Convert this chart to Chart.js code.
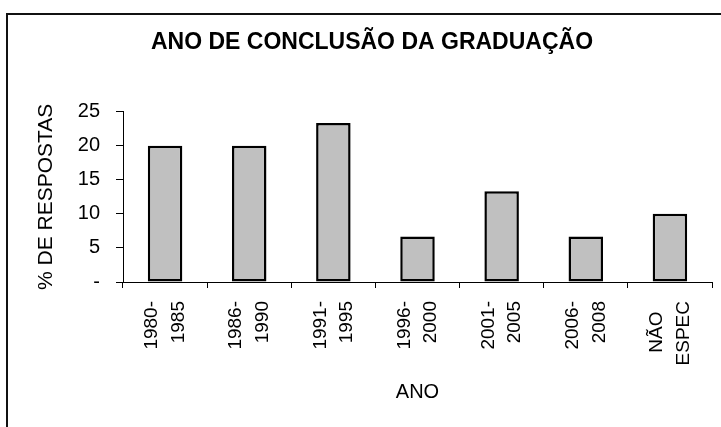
<!DOCTYPE html>
<html>
<head>
<meta charset="utf-8">
<script src="https://cdn.jsdelivr.net/npm/chart.js@4.4.0/dist/chart.umd.min.js"></script>
<style>
  html, body { margin: 0; padding: 0; background: #fff; }
  #wrap { position: relative; width: 721px; height: 427px; }
</style>
</head>
<body>
<div id="wrap"><canvas id="chartAno"></canvas></div>
<script>
  // ===== data =====
  const chartTitle = "ANO DE CONCLUSÃO DA GRADUAÇÃO";
  const yAxisTitle = "% DE RESPOSTAS";
  const xAxisTitle = "ANO";
  const periodLabels = [
    ["1980-", "1985"],
    ["1986-", "1990"],
    ["1991-", "1995"],
    ["1996-", "2000"],
    ["2001-", "2005"],
    ["2006-", "2008"],
    ["NÃO  ", "ESPEC"]
  ];
  const percentValues = [20, 20, 23.33, 6.67, 13.33, 6.67, 10];
  const yTicks = { min: 0, max: 25, step: 5 };

  const FONT = "'Liberation Sans', Arial, sans-serif";

  // outer frame (left + top edges of the original picture)
  const framePlugin = {
    id: "frame",
    beforeDraw(chart) {
      const ctx = chart.ctx;
      ctx.save();
      ctx.strokeStyle = "#111";
      ctx.lineWidth = 2;
      ctx.beginPath();
      ctx.moveTo(7, chart.height);
      ctx.lineTo(7, 14);
      ctx.lineTo(chart.width, 14);
      ctx.stroke();
      ctx.restore();
    }
  };

  new Chart(document.getElementById("chartAno"), {
    type: "bar",
    data: {
      labels: periodLabels,
      datasets: [{
        data: percentValues,
        backgroundColor: "#c0c0c0",
        borderColor: "#000",
        borderWidth: 2.5,
        borderSkipped: false,
        categoryPercentage: 1,
        barPercentage: 0.41
      }]
    },
    options: {
      responsive: true,
      maintainAspectRatio: false,
      animation: false,
      layout: { padding: { left: 32, right: 9, top: 0, bottom: 0 } },
      plugins: {
        legend: { display: false },
        tooltip: { enabled: false },
        title: {
          display: true,
          text: chartTitle,
          color: "#000",
          font: { family: FONT, size: 23, weight: "bold" },
          padding: { top: 29, bottom: 55 }
        }
      },
      scales: {
        x: {
          grid: {
            drawOnChartArea: false,
            drawTicks: true,
            tickLength: 6,
            color: "#000",
            offset: true
          },
          border: { color: "#000", width: 1 },
          ticks: {
            autoSkip: false,
            minRotation: 90,
            maxRotation: 90,
            padding: 13,
            labelOffset: -13,
            color: "#000",
            font: { family: FONT, size: 19, lineHeight: 1.4 }
          },
          title: {
            display: true,
            text: xAxisTitle,
            color: "#000",
            font: { family: FONT, size: 20 },
            padding: { top: 0, bottom: 23 }
          },
          afterFit(scale) {
            scale.height = 145;
            scale.paddingLeft = 0;
            scale.paddingRight = 0;
          }
        },
        y: {
          min: yTicks.min,
          max: yTicks.max,
          grid: {
            drawOnChartArea: false,
            drawTicks: true,
            tickLength: 7,
            color: "#000"
          },
          border: { color: "#000", width: 1 },
          ticks: {
            stepSize: yTicks.step,
            padding: 16,
            color: "#000",
            font: { family: FONT, size: 20 },
            callback: (v) => (v === 0 ? "-" : v)
          },
          title: {
            display: true,
            text: yAxisTitle,
            color: "#000",
            font: { family: FONT, size: 21 },
            padding: { top: 2, bottom: 0 }
          },
          afterFit(scale) { scale.width = 91; }
        }
      }
    },
    plugins: [framePlugin]
  });
</script>
</body>
</html>
